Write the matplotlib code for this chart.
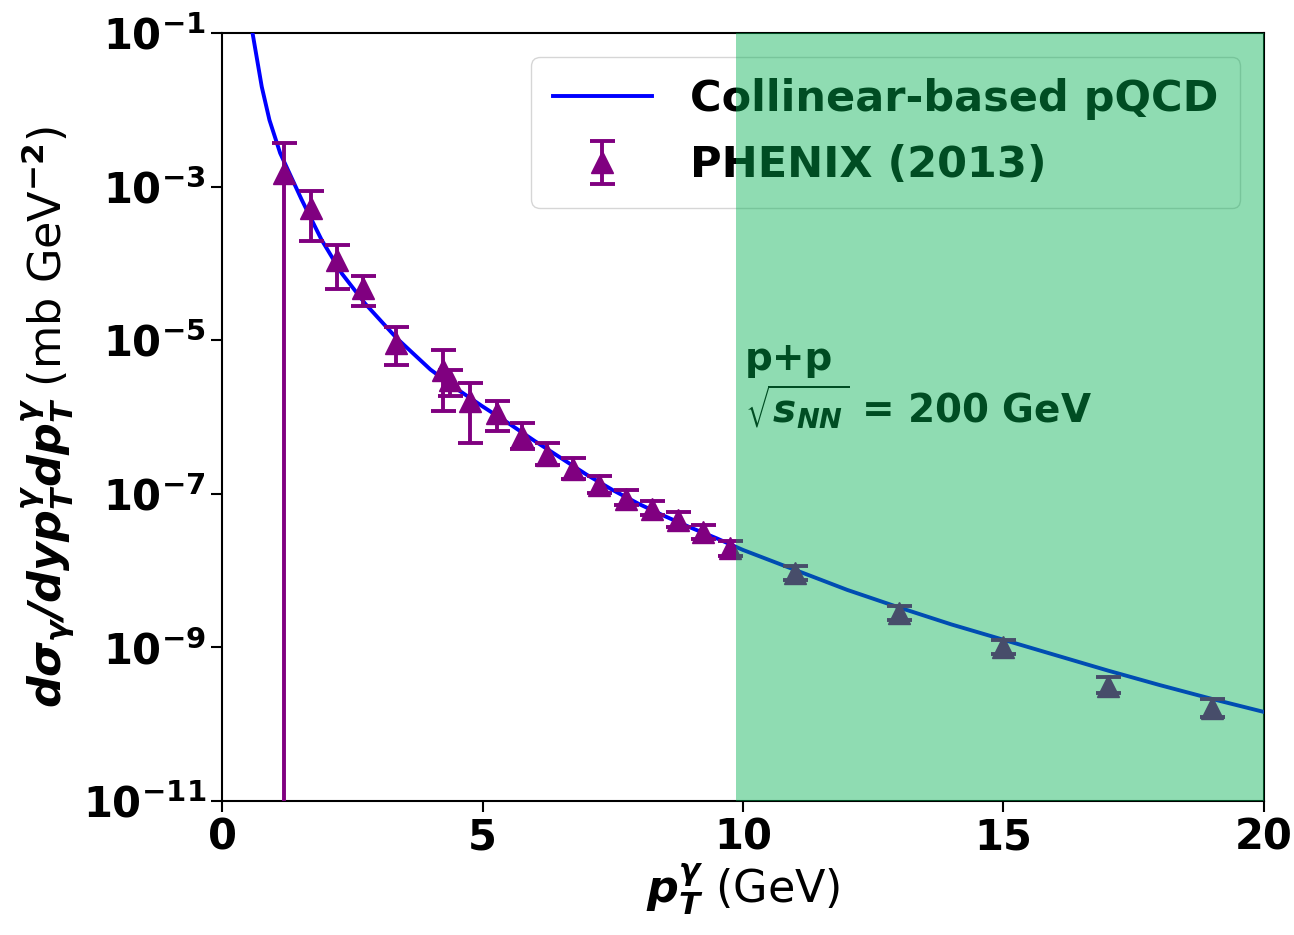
import numpy as np
import matplotlib
matplotlib.use('Agg')
import matplotlib.pyplot as plt
from matplotlib.ticker import FixedLocator, FuncFormatter, NullLocator

plt.rcParams['font.family'] = ['DejaVu Sans']
plt.rcParams['mathtext.fontset'] = 'dejavusans'

# PHENIX (2013) points: pT, log10 of value, log10 of upper / lower error ends
pt_data = [1.19, 1.71, 2.21, 2.70, 3.34, 4.25, 4.38, 4.76, 5.27, 5.75, 6.23, 6.73,
           7.24, 7.76, 8.25, 8.75, 9.24, 9.75, 11.0, 13.0, 15.0, 17.0, 19.0]
log_y = [-2.82, -3.28, -3.95, -4.32, -5.03, -5.39, -5.52, -5.79, -5.95, -6.25, -6.49, -6.67,
         -6.88, -7.06, -7.19, -7.34, -7.49, -7.71, -8.03, -8.55, -9.00, -9.50, -9.79]
log_hi = [-2.425, -3.06, -3.76, -4.16, -4.82, -5.13, -5.38, -5.55, -5.79, -6.07, -6.34, -6.53,
          -6.77, -6.95, -7.09, -7.23, -7.40, -7.61, -7.94, -8.46, -8.90, -9.38, -9.67]
log_lo = [-13.0, -3.71, -4.33, -4.55, -5.32, -5.92, -5.73, -6.34, -6.18, -6.41, -6.62, -6.80,
          -6.99, -7.14, -7.27, -7.43, -7.59, -7.81, -8.12, -8.64, -9.08, -9.59, -9.90]

# collinear pQCD curve
pt_curve = [0.586, 0.762, 0.910, 1.115, 1.53, 1.91, 2.30, 2.745, 3.35, 4.0, 4.5, 5.0,
            5.5, 6.0, 6.5, 7.0, 7.5, 8.0, 8.5, 9.0, 9.5, 10.0, 11.0, 12.0, 13.0, 14.0,
            15.0, 16.0, 17.0, 18.0, 19.0, 20.0]
log_curve = [-1.0, -1.696, -2.13, -2.56, -3.17, -3.69, -4.13, -4.52, -4.97, -5.38, -5.63, -5.86,
             -6.08, -6.31, -6.53, -6.75, -6.95, -7.13, -7.29, -7.44, -7.58, -7.73, -7.99, -8.25,
             -8.48, -8.70, -8.90, -9.10, -9.30, -9.49, -9.67, -9.84]

y = 10.0 ** np.array(log_y)
y_hi = 10.0 ** np.array(log_hi)
y_lo = 10.0 ** np.array(log_lo)
curve = 10.0 ** np.array(log_curve)

fig = plt.figure(figsize=(12.94, 9.35), dpi=100)
ax = fig.add_axes([0.1716, 0.1433, 0.8052, 0.8211])

ax.plot(pt_curve, curve, color='blue', lw=2.8, label='Collinear-based pQCD', zorder=3)
ax.errorbar(pt_data, y, yerr=[y - y_lo, y_hi - y], fmt='^', color='purple', ms=16,
            elinewidth=2.8, capsize=9, capthick=2.8, label='PHENIX (2013)', zorder=4)

ax.axvspan(9.87, 20, color='#00B050', alpha=0.44, lw=0, zorder=10)

ax.text(10.03, 10**-5.0, 'p+p\n' + r'$\sqrt{\mathbfit{s}_{\mathbfit{NN}}}$' + ' = 200 GeV',
        fontsize=28, fontweight='bold', va='top', ha='left', linespacing=1.1, zorder=6)

ax.set_yscale('log')
ax.set_xlim(0, 20)
ax.set_ylim(1e-11, 1e-1)
ax.yaxis.set_major_locator(FixedLocator([1e-11, 1e-9, 1e-7, 1e-5, 1e-3, 1e-1]))
ax.yaxis.set_minor_locator(NullLocator())
ax.yaxis.set_major_formatter(FuncFormatter(
    lambda v, p: r'$\mathbf{10^{%d}}$' % int(round(np.log10(v)))))
ax.set_xticks([0, 5, 10, 15, 20])
ax.set_xticklabels(['0', '5', '10', '15', '20'], fontweight='bold')
ax.tick_params(labelsize=30, length=8, width=1.5, direction='out')
for s in ax.spines.values():
    s.set_linewidth(1.5)

ax.set_xlabel(r'$\mathbfit{p_T^\gamma}$ (GeV)', fontsize=32, labelpad=2)
ax.set_ylabel(r'$\mathbfit{d\sigma_\gamma/dyp_T^\gamma dp_T^\gamma}$ (mb GeV$^{\mathbf{-2}}$)',
              fontsize=32, labelpad=4)

leg = ax.legend(loc='upper right', prop={'weight': 'bold', 'size': 31},
                handlelength=2.3, handletextpad=0.9, borderaxespad=0.55,
                labelspacing=0.55, borderpad=0.5)

fig.savefig('out.png', dpi=100)
